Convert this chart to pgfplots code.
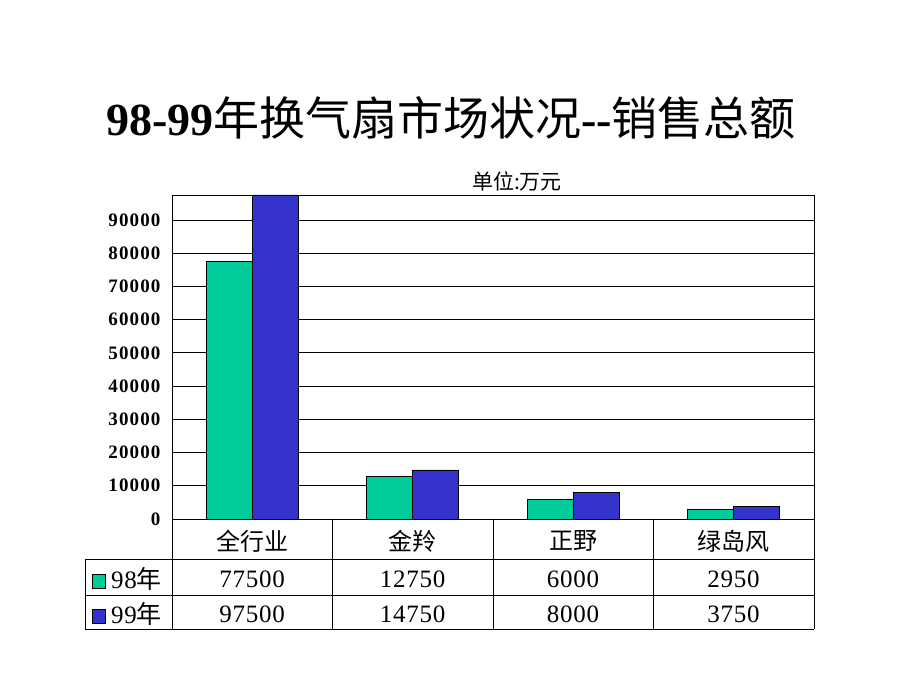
\documentclass[border=0pt]{standalone}
\usepackage{fontspec}
\setmainfont{Liberation Serif}
\newfontfamily\cjk{Noto Sans CJK SC}
\newfontfamily\tickfont[LetterSpace=6]{Liberation Serif}
\newfontfamily\numfont[LetterSpace=3]{Liberation Serif}
\usepackage{pgfplots}
\pgfplotsset{compat=1.18}
\definecolor{g98}{RGB}{0,204,153}
\definecolor{b99}{RGB}{51,51,204}

\begin{document}
\begin{tikzpicture}
\path[use as bounding box] (0,0) rectangle (920pt,690pt);
% title and unit
\node[font=\fontsize{46}{50}\selectfont] at (451pt,572pt)
  {{\bfseries 98-99}{\cjk 年换气扇市场状况}{\bfseries -{}-}{\cjk 销售总额}};
\node[font=\fontsize{21}{24}\selectfont\cjk] at (517pt,509pt) {单位:万元};

\begin{axis}[
    at={(172pt,171pt)}, anchor=south west,
    scale only axis,
    width=642pt, height=324pt,
    ybar, bar width=46pt,
    xmin=-0.5, xmax=3.5,
    ymin=0, ymax=97500,
    xtick=\empty,
    ytick={0,10000,...,90000},
    yticklabel style={font=\fontsize{19}{22}\selectfont\tickfont\bfseries, xshift=-8pt},
    /pgf/number format/assume math mode=true,
    /pgf/number format/1000 sep={},
    scaled y ticks=false,
    major tick length=0pt,
    ymajorgrids,
    grid style={black, line width=0.8pt},
    axis line style={black, line width=0.8pt},
    clip=true,
]
\addplot[fill=g98, draw=black, line width=0.6pt, bar shift=-23pt] coordinates {
    (0,77500) (1,12750) (2,6000) (3,2950)
};
\addplot[fill=b99, draw=black, line width=0.6pt, bar shift=23pt] coordinates {
    (0,97500) (1,14750) (2,8000) (3,3750)
};
\end{axis}

% data table
\begin{scope}[line width=0.8pt]
\draw (85pt,131pt) -- (814pt,131pt);
\draw (85pt,95pt) -- (814pt,95pt);
\draw (85pt,61pt) -- (814pt,61pt);
\draw (85pt,131pt) -- (85pt,61pt);
\foreach \x in {172,332,493,653,814} \draw (\x pt,171pt) -- (\x pt,61pt);
\end{scope}
\begin{scope}[font=\fontsize{25}{28}\selectfont\numfont]
\node[font=\fontsize{24}{28}\selectfont\cjk] at (252pt,149pt) {全行业};
\node[font=\fontsize{24}{28}\selectfont\cjk] at (412.5pt,149pt) {金羚};
\node[font=\fontsize{24}{28}\selectfont\cjk] at (573pt,149pt) {正野};
\node[font=\fontsize{24}{28}\selectfont\cjk] at (733.5pt,149pt) {绿岛风};
\node at (252pt,111pt) {77500};
\node at (412.5pt,111pt) {12750};
\node at (573pt,111pt) {6000};
\node at (733.5pt,111pt) {2950};
\node at (252pt,76pt) {97500};
\node at (412.5pt,76pt) {14750};
\node at (573pt,76pt) {8000};
\node at (733.5pt,76pt) {3750};
\fill[g98, draw=black, line width=0.6pt] (92pt,102pt) rectangle (105pt,116pt);
\fill[b99, draw=black, line width=0.6pt] (92pt,67pt) rectangle (105pt,81pt);
\node[anchor=west, inner sep=0pt] at (111pt,111pt) {98{\cjk 年}};
\node[anchor=west, inner sep=0pt] at (111pt,76pt) {99{\cjk 年}};
\end{scope}
\end{tikzpicture}
\end{document}
